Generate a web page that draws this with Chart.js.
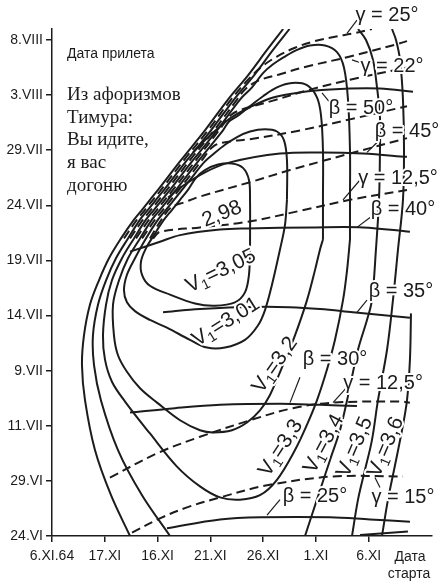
<!DOCTYPE html>
<html>
<head>
<meta charset="utf-8">
<script src="https://cdn.jsdelivr.net/npm/chart.js@4.4.0/dist/chart.umd.min.js"></script>
<style>
  html, body { margin: 0; padding: 0; background: #fff; }
  #wrap { position: relative; width: 439px; height: 582px; }
</style>
</head>
<body>
<div id="wrap"><canvas id="grafico" width="439" height="582"></canvas></div>
<script>
// ------------------------------------------------------------------------
// eixos: dias a partir de 6.XI.64 (x) e de 24.VI (y)
const xTicks = [0, 5, 10, 15, 20, 25, 30];
const xTickLabels = ["6.XI.64", "17.XI", "16.XI", "21.XI", "26.XI", "1.XI", "6.XI"];
const yTicks = [0, 5, 10, 15, 20, 25, 30, 35, 40, 45];
const yTickLabels = ["24.VI", "29.VI", "11.VII", "9.VII", "14.VII", "19.VII", "24.VII", "29.VII", "3.VIII", "8.VIII"];

// ------------------------------------------------------------------------
// isolinhas V1 (sólidas)
const v1_305 = [[18.76,26.0],[18.76,30.5],[18.66,32.3],[18.09,33.4],[17.05,33.8],[15.73,33.7],[14.49,33.2],[13.64,32.5],[12.88,31.4],[12.13,30.5],[11.37,29.6],[10.61,28.7],[9.66,27.3],[8.90,26.1],[8.43,24.9],[8.53,23.7],[9.28,22.7],[11.18,21.9],[13.55,21.1],[15.44,20.9],[17.34,21.2],[18.28,22.1],[18.66,23.7],[18.76,26.0]];
const v1_301 = [[22.26,30.5],[22.26,34.1],[21.98,35.9],[21.31,36.7],[20.18,36.9],[18.76,36.7],[17.53,36.2],[16.39,35.5],[15.35,34.7],[14.40,33.9],[13.07,32.3],[12.32,31.4],[11.56,30.5],[10.80,29.6],[10.04,28.7],[8.90,27.0],[7.86,25.2],[7.10,23.7],[6.82,22.3],[7.10,21.2],[7.86,20.4],[9.28,19.6],[10.89,18.9],[13.07,17.8],[14.68,17.1],[16.39,17.1],[18.28,17.8],[19.51,19.1],[20.18,20.5],[20.84,22.8],[21.60,26.0],[22.07,28.2],[22.26,30.5]];
const v1_32 = [[25.67,26.9],[25.67,30.5],[25.67,35.0],[25.48,38.2],[25.10,39.8],[24.16,40.9],[22.74,41.1],[21.31,40.7],[19.99,39.9],[18.76,39.0],[17.72,38.2],[16.77,37.6],[16.20,36.8],[13.93,34.1],[11.75,31.4],[10.99,30.5],[10.23,29.6],[9.47,28.7],[8.34,27.0],[7.20,25.2],[6.35,23.2],[5.78,21.0],[5.87,18.2],[6.25,16.4],[7.10,14.9],[8.34,13.4],[9.95,12.1],[12.13,10.5],[14.02,9.6],[15.25,9.4],[17.05,9.6],[18.47,10.3],[19.70,11.4],[20.65,12.8],[21.88,15.5],[23.02,18.2],[24.16,21.4],[24.91,24.1],[25.39,26.0],[25.67,26.9]];
const v1_33 = [[28.23,26.9],[28.23,30.5],[28.23,35.0],[28.04,39.6],[27.66,42.5],[27.00,43.9],[25.86,44.5],[24.44,44.5],[23.21,44.1],[22.07,43.5],[20.94,42.8],[19.99,42.0],[18.95,40.7],[17.81,39.6],[15.63,36.8],[13.36,34.1],[11.18,31.4],[10.42,30.5],[9.66,29.6],[8.90,28.7],[7.77,27.0],[6.63,25.2],[5.68,23.2],[5.12,21.0],[4.83,18.2],[5.02,16.0],[5.68,14.0],[6.92,12.2],[9.28,9.3],[11.84,6.3],[14.02,4.5],[15.92,3.5],[17.81,3.3],[19.70,3.7],[21.31,5.1],[23.02,7.8],[24.16,10.1],[25.10,12.3],[26.05,15.1],[26.81,17.8],[27.57,21.4],[27.95,24.1],[28.23,26.9]];
const v1_34 = [[23.97,0],[25.10,3.3],[26.34,6.9],[27.28,9.6],[27.95,12.3],[28.99,16.9],[29.84,19.6],[30.31,21.4],[30.69,26.0],[30.98,30.5],[31.07,35.0],[31.07,38.0],[30.79,40.7],[30.41,43.2],[29.75,45.0],[28.99,46.0]];
const v1_35 = [[28.42,0],[28.99,3.3],[29.65,6.0],[30.31,8.7],[30.88,12.3],[31.74,16.9],[32.30,21.4],[32.78,26.0],[33.25,30.5],[33.35,35.0],[33.25,39.6],[32.97,43.2],[32.59,45.0],[32.21,46.0]];
const v1_36 = [[31.26,0],[31.83,3.3],[32.49,6.4],[33.16,9.6],[33.63,12.3],[33.91,16.0],[34.01,20.2]];
// ramos esquerdos externos (feixe diagonal)
const v1_extA = [[21.90,46.0],[20.37,44.1],[18.57,41.8],[16.67,39.6],[14.49,36.8],[12.22,34.1],[10.04,31.4],[9.28,30.5],[8.53,29.6],[7.77,28.7],[6.54,27.0],[5.40,25.2],[4.45,23.2],[3.60,21.0],[3.03,18.2],[2.84,15.5],[3.13,12.3],[4.07,7.8],[5.59,3.7],[7.39,0]];
const v1_extB = [[22.50,46.0],[20.94,44.1],[19.14,41.8],[17.24,39.6],[15.06,36.8],[12.79,34.1],[10.61,31.4],[9.85,30.5],[9.09,29.6],[8.34,28.7],[7.20,27.0],[6.06,25.2],[5.12,23.2],[4.36,21.0],[3.88,18.2],[3.98,15.5],[4.64,12.3],[6.25,7.8],[8.53,3.7],[11.18,0]];

// ------------------------------------------------------------------------
// linhas beta (sólidas)
const beta50 = [[13.36,34.8],[14.49,35.9],[15.73,37.0],[17.05,38.0],[18.76,38.9],[20.65,39.7],[22.55,40.1],[24.73,40.4],[28.23,40.6],[31.07,40.6],[34.20,40.3]];
const beta45 = [[10.99,30.7],[12.13,31.6],[14.49,33.0],[16.86,33.9],[21.60,34.7],[25.67,34.8],[29.46,34.7],[33.63,34.4]];
const beta40 = [[7.39,25.8],[10.23,26.7],[12.13,27.3],[15.92,27.8],[18.47,27.9],[24.73,28.0],[29.46,28.0],[33.91,27.6]];
const beta35 = [[10.52,20.3],[14.02,20.6],[20.37,20.8],[25.39,20.6],[28.51,20.3],[33.91,19.8]];
const beta30 = [[7.39,11.2],[11.65,11.6],[15.92,11.9],[21.60,12.0],[25.39,11.9],[28.89,11.8]];
const beta25 = [[10.89,0.7],[15.92,1.5],[19.99,1.7],[26.34,1.7],[30.13,1.5],[33.91,1.3]];
const beta20 = [[29.18,0.1],[33.72,0.4]];

// ------------------------------------------------------------------------
// linhas gama (tracejadas)
const gamma25 = [[6.82,27.0],[8.05,28.7],[8.81,29.6],[9.57,30.5],[10.33,31.4],[12.50,34.1],[14.78,36.8],[16.96,39.6],[18.57,41.4],[19.89,42.6],[21.31,43.5],[23.02,44.3],[24.91,44.9],[26.81,45.3],[28.51,45.6],[30.31,46.0]];
const gamma22 = [[7.39,27.0],[8.62,28.7],[9.38,29.6],[10.14,30.5],[10.89,31.4],[13.07,34.1],[15.35,36.8],[17.53,39.6],[18.38,40.6],[19.51,41.3],[21.60,41.9],[24.16,42.6],[28.23,43.5],[32.97,44.7],[33.63,44.9]];
const gamma19 = [[7.96,27.0],[9.19,28.7],[9.95,29.6],[10.70,30.5],[11.46,31.4],[13.64,34.1],[15.82,36.8],[16.96,38.2],[18.00,38.7],[20.94,39.5],[24.44,40.5],[28.23,41.4],[33.63,42.5]];
const gamma17 = [[8.53,27.0],[9.76,28.7],[10.52,29.6],[11.27,30.5],[12.03,31.4],[14.21,34.1],[15.35,35.4],[16.86,35.8],[18.76,36.0],[23.49,36.8],[28.23,37.8],[33.63,39.0]];
const gamma15a = [[9.28,27.0],[10.23,28.5],[11.27,29.8],[12.60,30.3],[14.02,30.8],[18.76,32.1],[22.55,33.2],[28.23,34.7],[33.63,36.1]];
const gamma125a = [[9.57,27.0],[10.23,27.6],[14.02,28.0],[18.47,28.5],[23.49,29.5],[28.23,30.5],[33.63,31.4]];
const gamma125b = [[5.49,5.3],[9.95,7.5],[14.02,9.0],[18.76,10.5],[22.83,11.6],[26.62,12.1],[32.97,12.2],[33.91,12.1]];
const gamma15 = [[7.58,0.3],[10.23,1.6],[12.79,2.6],[15.92,3.5],[20.37,4.6],[26.62,5.4],[33.25,5.4]];

const linhasSolidas = [v1_305, v1_301, v1_32, v1_33, v1_34, v1_35, v1_36, v1_extA, v1_extB,
  beta50, beta45, beta40, beta35, beta30, beta25, beta20];
const linhasTracejadas = [gamma25, gamma22, gamma19, gamma17, gamma15a, gamma125a, gamma125b, gamma15];

// ------------------------------------------------------------------------
// rótulos das curvas (posição em unidades de dados, ângulo em graus)
const rotulos = [
  { t: "γ = 25°", x: 31.74, y: 47.27, a: 0 },
  { t: "γ = 22°", x: 32.21, y: 42.64, a: 0 },
  { t: "β = 50°", x: 29.27, y: 38.83, a: 0 },
  { t: "β = 45°", x: 33.63, y: 36.74, a: 0 },
  { t: "γ = 12,5°", x: 32.78, y: 32.48, a: 0 },
  { t: "β = 40°", x: 33.25, y: 29.58, a: 0 },
  { t: "β = 35°", x: 33.06, y: 22.23, a: 0 },
  { t: "β = 30°", x: 26.81, y: 15.97, a: 0 },
  { t: "γ = 12,5°", x: 31.36, y: 13.88, a: 0 },
  { t: "β = 25°", x: 24.91, y: 3.54, a: 0 },
  { t: "γ = 15°", x: 33.25, y: 3.45, a: 0 },
  { t: "2,98", x: 16.10, y: 29.21, a: 22 },
  { t: "V_1=3,05", x: 16.01, y: 24.04, a: 26 },
  { t: "V_1=3,01", x: 16.48, y: 19.42, a: 32 },
  { t: "V_1=3,2", x: 21.13, y: 15.51, a: 55 },
  { t: "V_1=3,3", x: 21.69, y: 7.98, a: 57 },
  { t: "V_1=3,4", x: 25.77, y: 8.35, a: 62 },
  { t: "V_1=3,5", x: 28.70, y: 8.07, a: 67 },
  { t: "V_1=3,6", x: 31.64, y: 8.07, a: 67 },
];
// traços de chamada dos rótulos
const chamadas = [
  [28.89,46.8, 27.95,45.6], [29.65,42.8, 28.42,43.2], [26.43,39.2, 25.58,40.2],
  [30.79,35.7, 29.84,34.8], [29.18,32.3, 27.57,30.5], [30.13,28.9, 28.89,28.0],
  [29.84,21.4, 28.89,20.3], [23.49,14.4, 22.55,12.1], [27.95,13.5, 26.62,12.1],
  [21.60,3.3, 20.37,1.9], [31.07,4.4, 30.60,5.3]
];

const TINTA = "#1c1c1c";
const SANS = "'Liberation Sans', Arial, sans-serif";
const SERIF = "'Liberation Serif', 'Times New Roman', serif";

function desenharRotulo(ctx, texto, tam) {
  // "V_1=..." -> V com índice 1
  let partes;
  if (texto.startsWith("V_1")) {
    partes = [
      { s: "V", f: tam, dy: 0 },
      { s: "1", f: Math.round(tam * 0.68), dy: tam * 0.28 },
      { s: texto.slice(3), f: tam, dy: 0 },
    ];
  } else {
    partes = [{ s: texto, f: tam, dy: 0 }];
  }
  let total = 0;
  partes.forEach(p => { ctx.font = p.f + "px " + SANS; p.w = ctx.measureText(p.s).width; total += p.w; });
  let cx = -total / 2;
  ctx.textBaseline = "middle";
  ctx.textAlign = "left";
  partes.forEach(p => {
    ctx.font = p.f + "px " + SANS;
    ctx.strokeStyle = "#fff";
    ctx.lineWidth = 4;
    ctx.lineJoin = "round";
    ctx.strokeText(p.s, cx, p.dy);
    ctx.fillStyle = TINTA;
    ctx.fillText(p.s, cx, p.dy);
    cx += p.w;
  });
}

const pluginTextos = {
  id: "textos",
  afterDatasetsDraw(chart) {
    const ctx = chart.ctx;
    const sx = chart.scales.x, sy = chart.scales.y;
    ctx.save();
    ctx.strokeStyle = TINTA;
    ctx.lineWidth = 1.2;
    chamadas.forEach(c => {
      ctx.beginPath();
      ctx.moveTo(sx.getPixelForValue(c[0]), sy.getPixelForValue(c[1]));
      ctx.lineTo(sx.getPixelForValue(c[2]), sy.getPixelForValue(c[3]));
      ctx.stroke();
    });
    rotulos.forEach(r => {
      ctx.save();
      ctx.translate(sx.getPixelForValue(r.x), sy.getPixelForValue(r.y));
      ctx.rotate(-r.a * Math.PI / 180);
      desenharRotulo(ctx, r.t, r.t.startsWith("V") || r.t === "2,98" ? 21 : 20);
      ctx.restore();
    });

    // textos livres
    ctx.fillStyle = TINTA;
    ctx.textBaseline = "alphabetic";
    ctx.textAlign = "left";
    ctx.font = "14px " + SANS;
    ctx.fillText("Дата прилета", 67, 58);
    ctx.font = "19px " + SERIF;
    ["Из афоризмов", "Тимура:", "Вы идите,", "я вас", "догоню"].forEach((l, i) => {
      ctx.fillText(l, 67, 100 + i * 22.7);
    });
    ctx.font = "14px " + SANS;
    ctx.textAlign = "center";
    ctx.fillText("Дата", 410, 561);
    ctx.fillText("старта", 409, 578);
    ctx.restore();
  }
};

// ------------------------------------------------------------------------
const datasets = [];
linhasSolidas.forEach(l => datasets.push({
  data: l.map(p => ({ x: p[0], y: p[1] })),
  borderColor: TINTA, borderWidth: 2, showLine: true, pointRadius: 0, tension: 0.35,
}));
linhasTracejadas.forEach(l => datasets.push({
  data: l.map(p => ({ x: p[0], y: p[1] })),
  borderColor: TINTA, borderWidth: 2, borderDash: [9, 5], showLine: true, pointRadius: 0, tension: 0.35,
}));

const fonteEixo = { family: SANS, size: 14 };

new Chart(document.getElementById("grafico"), {
  type: "scatter",
  data: { datasets: datasets },
  options: {
    responsive: false,
    animation: false,
    layout: { padding: { top: 29, right: 7, left: 0, bottom: 0 } },
    elements: { line: { capBezierPoints: false } },
    plugins: { legend: { display: false }, tooltip: { enabled: false } },
    scales: {
      x: {
        type: "linear", min: 0, max: 36,
        afterBuildTicks: s => { s.ticks = xTicks.map(v => ({ value: v })); },
        afterFit: s => { s.height = 46; },
        ticks: {
          callback: v => xTickLabels[xTicks.indexOf(v)],
          font: fonteEixo, color: TINTA, padding: 6, maxRotation: 0, autoSkip: false,
        },
        grid: { drawOnChartArea: false, tickLength: 6, color: TINTA, lineWidth: 1.5 },
        border: { color: TINTA, width: 1.5 },
      },
      y: {
        type: "linear", min: 0, max: 46,
        afterBuildTicks: s => { s.ticks = yTicks.map(v => ({ value: v })); },
        afterFit: s => { s.width = 52; },
        ticks: {
          callback: v => yTickLabels[yTicks.indexOf(v)],
          font: fonteEixo, color: TINTA, padding: 3, autoSkip: false,
        },
        grid: { drawOnChartArea: false, tickLength: 6, color: TINTA, lineWidth: 1.5 },
        border: { color: TINTA, width: 1.5 },
      },
    },
  },
  plugins: [pluginTextos],
});
</script>
</body>
</html>
